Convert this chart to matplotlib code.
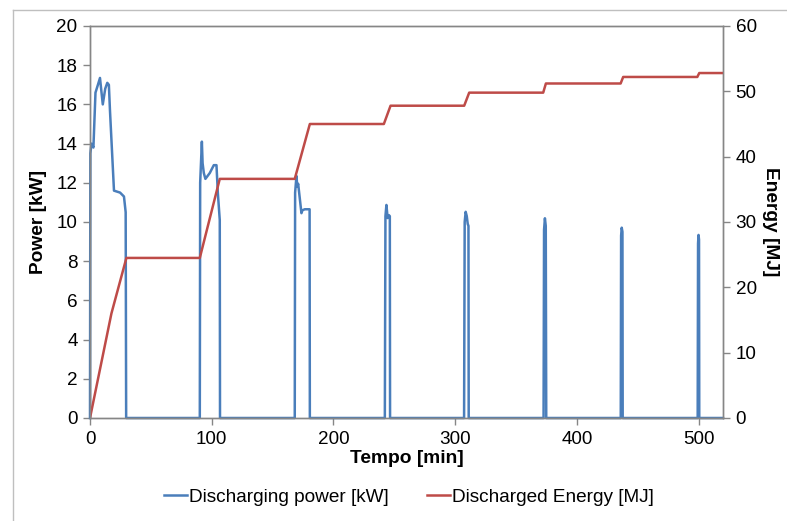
import matplotlib
matplotlib.use("Agg")
import matplotlib.pyplot as plt
from matplotlib.lines import Line2D

plt.rcParams['font.family'] = ['Liberation Sans', 'DejaVu Sans']

# Discharging power [kW] vs time [min]
time_kw = [0, 0.3, 1.2, 2.0, 2.8, 4.5, 6.5, 8.2, 10.5, 12.5, 14.2, 15.5, 16.4, 19.7, 24.7, 27.9, 29.3, 29.7,
           90.2, 90.5, 91.9, 92.5, 93.5, 94.8, 98.4, 101.7, 103.9, 105.0, 106.6, 106.8,
           168.2, 168.5, 169.6, 170.3, 171.0, 173.7, 174.5, 176.5, 180.4, 180.6,
           242.2, 242.7, 243.5, 244.5, 245.5, 246.3, 246.5,
           307.3, 307.8, 308.6, 309.5, 310.3, 310.9, 311.1,
           372.6, 373.0, 373.7, 374.4, 374.8,
           436.0, 436.3, 436.8, 437.4, 437.6,
           499.2, 499.5, 499.9, 500.3, 500.5, 520]
power_kw = [0, 13.5, 14.0, 13.9, 13.8, 16.6, 17.0, 17.35, 16.0, 16.8, 17.1, 17.0, 15.7, 11.6, 11.5, 11.3, 10.5, 0,
            0, 12.0, 14.1, 13.0, 12.5, 12.2, 12.5, 12.9, 12.9, 11.5, 10.1, 0,
            0, 11.5, 12.35, 11.8, 11.95, 10.45, 10.6, 10.65, 10.65, 0,
            0, 10.3, 10.87, 10.2, 10.35, 10.3, 0,
            0, 10.0, 10.52, 10.3, 9.9, 9.8, 0,
            0, 9.6, 10.19, 9.8, 0,
            0, 9.3, 9.71, 9.5, 0,
            0, 8.9, 9.34, 9.1, 0, 0]

# Discharged energy [MJ] vs time [min]
time_mj = [0, 17.6, 29.9, 90.2, 106.6, 168.2, 180.6, 241.4, 246.9, 307.4, 311.5,
           372.3, 374.5, 435.9, 438.0, 498.9, 500.5, 520]
energy_mj = [0, 16.0, 24.5, 24.5, 36.6, 36.6, 45.0, 45.0, 47.8, 47.8, 49.8,
             49.8, 51.2, 51.2, 52.2, 52.2, 52.8, 52.8]

blue = '#4A7EBB'
red = '#BE4B48'
gray = '#868686'

fig = plt.figure(figsize=(7.87, 5.21), dpi=100)
ax = fig.add_axes([90 / 787, 1 - 418 / 521, (723 - 90) / 787, (418 - 26) / 521])
ax2 = ax.twinx()

ax.plot(time_kw, power_kw, color=blue, linewidth=1.8, label='Discharging power [kW]', clip_on=False)
ax2.plot(time_mj, energy_mj, color=red, linewidth=1.8, label='Discharged Energy [MJ]')

ax.set_xlim(0, 520)
ax.set_ylim(0, 20)
ax2.set_ylim(0, 60)
ax.set_xticks([0, 100, 200, 300, 400, 500])
ax.set_yticks(range(0, 21, 2))
ax2.set_yticks(range(0, 61, 10))

for a in (ax, ax2):
    for s in a.spines.values():
        s.set_color(gray)
        s.set_linewidth(1.0)
    a.tick_params(direction='out', length=5, color=gray, width=1, labelsize=13.6, pad=4)

ax.set_xlabel('Tempo [min]', fontsize=13.8, fontweight='bold', labelpad=2)
ax.set_ylabel('Power [kW]', fontsize=13.8, fontweight='bold', labelpad=7)
ax2.set_ylabel('Energy [MJ]', fontsize=13.8, fontweight='bold', rotation=-90, labelpad=16)

# Legend below the chart
handles = [Line2D([], [], color=blue, linewidth=1.8), Line2D([], [], color=red, linewidth=1.8)]
fig.legend(handles, ['Discharging power [kW]', 'Discharged Energy [MJ]'],
           loc='center', bbox_to_anchor=(409 / 787, 1 - 497 / 521), ncol=2, frameon=False,
           fontsize=13.7, handlelength=1.2, handletextpad=0.1, columnspacing=2.0)

# Outer chart border (left and top)
fig.add_artist(Line2D([13 / 787, 13 / 787], [0, 1 - 10 / 521], transform=fig.transFigure, color='#BFBFBF', linewidth=1))
fig.add_artist(Line2D([13 / 787, 1], [1 - 10 / 521, 1 - 10 / 521], transform=fig.transFigure, color='#BFBFBF', linewidth=1))

fig.savefig('out.png', dpi=100)
